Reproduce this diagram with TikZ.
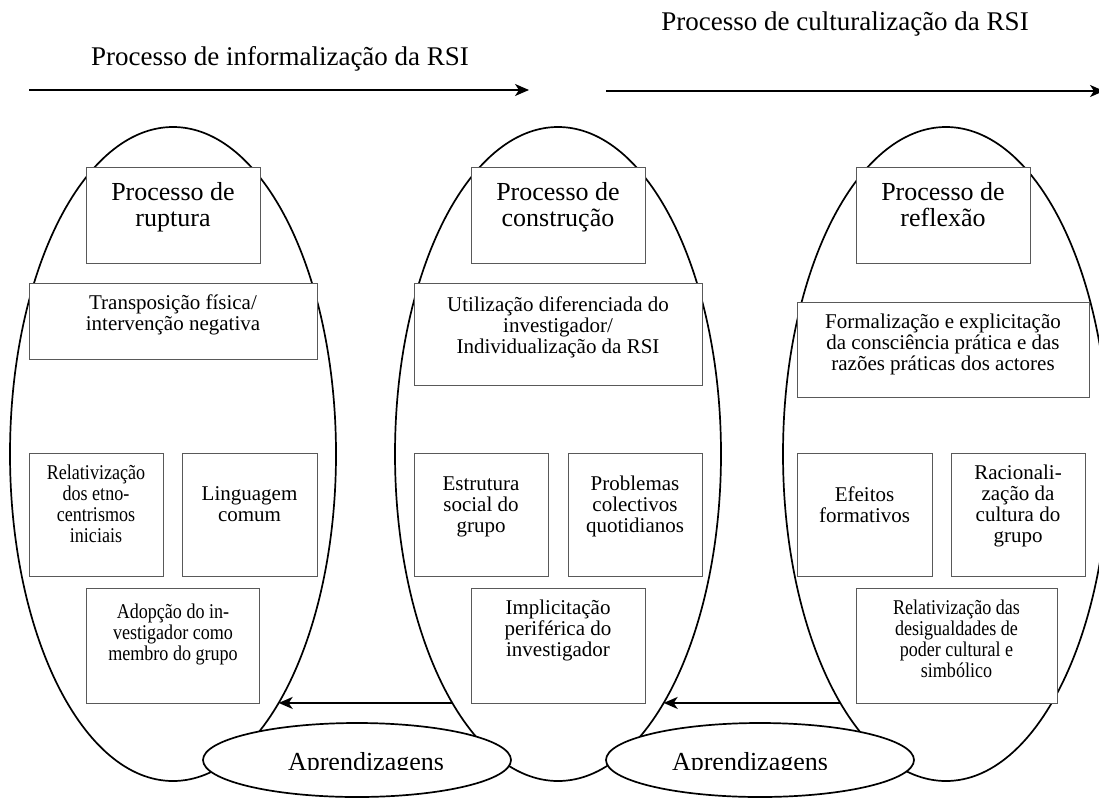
\documentclass[tikz,border=0pt]{standalone}
\usepackage{fontspec}
\setmainfont{Liberation Serif}
\newfontfamily\estreita[FakeStretch=0.86]{Liberation Serif}
\usetikzlibrary{shapes.geometric,arrows.meta,positioning}

\tikzset{
  fase/.style={draw, ellipse, line width=1.7pt, inner sep=0pt, outer sep=0pt,
    minimum width=326pt, minimum height=654pt},
  aprend/.style={draw, ellipse, fill=white, line width=1.7pt, inner sep=0pt,
    outer sep=0pt, minimum width=308pt, minimum height=74pt},
  caixa/.style={draw=black!65, fill=white, line width=0.8pt, align=center,
    inner sep=0pt, outer sep=0pt, font=\fontsize{21}{21}\selectfont},
  estreito/.style={caixa, font=\estreita\fontsize{21}{21}\selectfont},
  titulo/.style={caixa, font=\fontsize{26}{26}\selectfont,
    minimum width=174pt, minimum height=96pt},
  rotulo/.style={inner sep=0pt, font=\fontsize{27}{27}\selectfont},
  seta/.style={-{Stealth[length=14pt,width=12pt,inset=4pt]}, line width=1.8pt},
}
% espaco em baixo do texto nas caixas
\newcommand\fundo[1]{\rule[-#1pt]{0pt}{#1pt}}

\begin{document}
\begin{tikzpicture}[x=1pt, y=1pt, node distance=20pt]
\useasboundingbox (0,0) rectangle (1099,-797);

% as tres fases
\node[fase] (ruptura) at (173,-454) {};
\node[fase] (construcao) at (558,-454) {};
\node[fase] (reflexao) at (946,-454) {};

% processos no topo
\coordinate (ini1) at (29,-90);
\coordinate (fim1) at (529,-90);
\coordinate (ini2) at (606,-91);
\coordinate (fim2) at (1104,-91);
\draw[seta] (ini1) -- (fim1);
\draw[seta] (ini2) -- (fim2);
\node[rotulo, anchor=base] (informal) at (280,-66) {Processo de informalização da RSI};
\node[rotulo, anchor=base] (cultural) at (845,-31) {Processo de culturalização da RSI};

% ruptura
\node[titulo, below=40pt of ruptura.north] (tit1) {Processo de\\ruptura\fundo{22}};
\node[caixa, minimum width=288pt, minimum height=76pt, below=of tit1] (transp)
  {Transposição física/\\intervenção negativa\fundo{16}};
\node[estreito, minimum width=134pt, minimum height=123pt,
  below=94pt of transp.south west, anchor=north west] (relat)
  {Relativização\\dos etno-\\centrismos\\iniciais\fundo{21}};
\node[caixa, minimum width=135pt, minimum height=123pt, right=19pt of relat] (lingua)
  {Linguagem\\comum\fundo{20}};
\node[estreito, minimum width=173pt, minimum height=115pt, anchor=north, yshift=-12pt]
  (adopcao) at (transp.center |- relat.south)
  {Adopção do in-\\vestigador como\\membro do grupo\fundo{26}};

% construcao
\node[titulo, below=40pt of construcao.north] (tit2) {Processo de\\construção\fundo{22}};
\node[caixa, minimum width=288pt, minimum height=102pt, below=of tit2] (utiliz)
  {Utilização diferenciada do\\investigador/\\Individualização da RSI\fundo{18}};
\node[caixa, minimum width=134pt, minimum height=123pt,
  below=68pt of utiliz.south west, anchor=north west] (estrut)
  {Estrutura\\social do\\grupo\fundo{20}};
\node[caixa, minimum width=134pt, minimum height=123pt, right=of estrut] (problem)
  {Problemas\\colectivos\\quotidianos\fundo{20}};
\node[caixa, minimum width=174pt, minimum height=115pt, anchor=north, yshift=-12pt]
  (implic) at (utiliz.center |- estrut.south)
  {Implicitação\\periférica do\\investigador\fundo{34}};

% reflexao
\node[titulo, below=40pt of reflexao.north, xshift=-3pt] (tit3) {Processo de\\reflexão\fundo{22}};
\node[caixa, minimum width=292pt, minimum height=95pt, below=39pt of tit3] (formal)
  {Formalização e explicitação\\da consciência prática e das\\razões práticas dos actores\fundo{15}};
\node[caixa, minimum width=135pt, minimum height=123pt,
  below=56pt of formal.south west, anchor=north west] (efeitos)
  {Efeitos\\formativos\fundo{20}};
\node[caixa, minimum width=134pt, minimum height=123pt, right=19pt of efeitos] (racion)
  {Racionali-\\zação da\\cultura do\\grupo\fundo{21}};
\node[estreito, minimum width=201pt, minimum height=115pt, anchor=north west, yshift=-12pt]
  (relpoder) at (tit3.west |- efeitos.south)
  {Relativização das\\desigualdades de\\poder cultural e\\simbólico\fundo{13}};

% aprendizagens
\draw[seta] (construcao.-113) -- (ruptura.-67);
\draw[seta] (reflexao.-113) -- (construcao.-67);
\node[aprend] (apr1) at (357,-760) {};
\node[aprend] (apr2) at (760,-760) {};
\begin{scope}
  \clip (0,0) rectangle (1099,-769);
  \node[rotulo, font=\fontsize{26}{26}\selectfont, anchor=base] (txt1) at (366,-770) {Aprendizagens};
  \node[rotulo, font=\fontsize{26}{26}\selectfont, anchor=base] (txt2) at (750,-770) {Aprendizagens};
\end{scope}
\end{tikzpicture}
\end{document}
